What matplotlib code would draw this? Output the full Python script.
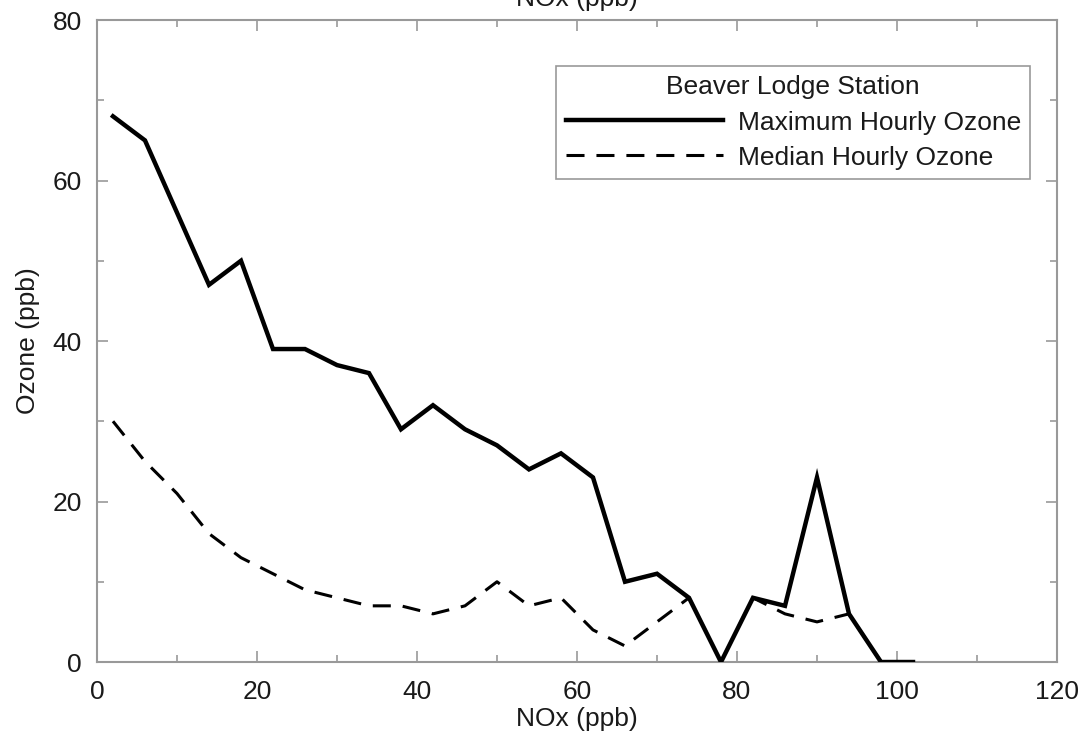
import matplotlib.pyplot as plt
from matplotlib.ticker import MultipleLocator

plt.rcParams['font.family'] = ['Liberation Sans', 'DejaVu Sans']

# NOx bins (ppb) and ozone values
nox = [2, 6, 10, 14, 18, 22, 26, 30, 34, 38, 42, 46, 50,
       54, 58, 62, 66, 70, 74, 78, 82, 86, 90, 94, 98, 102]
max_ozone = [68, 65, 56, 47, 50, 39, 39, 37, 36, 29, 32, 29, 27,
             24, 26, 23, 10, 11, 8, 0, 8, 7, 23, 6, 0, 0]
median_ozone = [30, 25, 21, 16, 13, 11, 9, 8, 7, 7, 6, 7, 10,
                7, 8, 4, 2, 5, 8, 0, 8, 6, 5, 6, 0, 0]

fig = plt.figure(figsize=(10.86, 7.41), dpi=100)
ax = fig.add_axes([0.0893, 0.1066, 0.884, 0.8664])

ax.plot(nox, median_ozone, color='black', lw=2.2, dashes=(5.9, 3.9),
        label='Median Hourly Ozone', zorder=2)
ax.plot(nox, max_ozone, color='black', lw=3.2, label='Maximum Hourly Ozone',
        zorder=3, solid_joinstyle='miter')

ax.set_xlim(0, 120)
ax.set_ylim(0, 80)
ax.xaxis.set_major_locator(MultipleLocator(20))
ax.xaxis.set_minor_locator(MultipleLocator(10))
ax.yaxis.set_major_locator(MultipleLocator(20))
ax.yaxis.set_minor_locator(MultipleLocator(10))
ax.tick_params(which='both', direction='in', top=True, right=True,
               color='#999999', labelsize=19, labelcolor='#1a1a1a')
ax.tick_params(axis='x', which='both', pad=13)
ax.tick_params(axis='y', which='both', pad=11)
ax.tick_params(which='major', length=8, width=1.2)
ax.tick_params(which='minor', length=5, width=1.2)
for s in ax.spines.values():
    s.set_color('#999999')
    s.set_linewidth(1.5)

ax.set_xlabel('NOx (ppb)', fontsize=19, labelpad=2, color='#1a1a1a')
ax.set_ylabel('Ozone (ppb)', fontsize=19, labelpad=9, color='#1a1a1a')
# top axis title, mostly cropped off the top of the figure
fig.text(0.531, 1 - 6 / 741, 'NOx (ppb)', fontsize=19, ha='center',
         va='baseline', color='#1a1a1a')

h, l = ax.get_legend_handles_labels()
leg = ax.legend(h[::-1], l[::-1], title='Beaver Lodge Station',
                loc='upper right', bbox_to_anchor=(0.972, 0.928),
                fontsize=19, title_fontsize=19, handlelength=5.95,
                handletextpad=0.57, fancybox=False, framealpha=1,
                edgecolor='#999999', borderpad=0.35, labelspacing=0.42,
                borderaxespad=0)
leg.get_frame().set_linewidth(1.2)
for t in leg.get_texts():
    t.set_color('#1a1a1a')
leg.get_title().set_color('#1a1a1a')

fig.savefig('out.png', dpi=100)
